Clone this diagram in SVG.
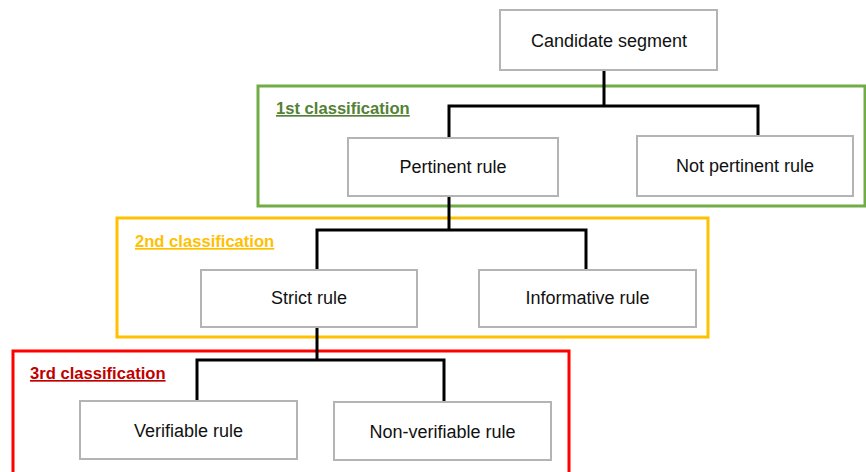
<svg xmlns="http://www.w3.org/2000/svg" width="866" height="472" viewBox="0 0 866 472">
<style>
.node rect{fill:#fff;stroke:#B4B4B4;stroke-width:2}
.node text{font-family:"Liberation Sans",Arial,sans-serif;font-size:18px;fill:#111;text-anchor:middle}
.grp{fill:none;stroke-width:3}
.lbl{font-family:"Liberation Sans",Arial,sans-serif;font-size:16.6px;font-weight:bold;text-decoration:underline}
#connectors path{fill:none;stroke:#000;stroke-width:3}
</style>
<rect width="866" height="472" fill="#fff"/>
<g id="group-1st">
<rect class="grp" x="258" y="86" width="607" height="120" stroke="#70AD47"/>
<text class="lbl" x="276" y="114" fill="#538135">1st classification</text>
</g>
<g id="group-2nd">
<rect class="grp" x="117" y="218" width="591" height="119" stroke="#FFC000"/>
<text class="lbl" x="135" y="247" fill="#FFC000">2nd classification</text>
</g>
<g id="group-3rd">
<rect class="grp" x="13" y="351" width="556" height="125" stroke="#FF0000"/>
<text class="lbl" x="30" y="379" fill="#C00000">3rd classification</text>
</g>
<g id="connectors">
<path d="M604 70V106M449 138V106H758V138"/>
<path d="M449 196V230M317 270V230H586V270"/>
<path d="M317 327V360M197 401V360H444V401"/>
</g>
<g id="candidate" class="node"><rect x="500" y="10" width="217" height="60"/><text x="609" y="47">Candidate segment</text></g>
<g id="pertinent" class="node"><rect x="348" y="138" width="210" height="58"/><text x="453" y="173">Pertinent rule</text></g>
<g id="not-pertinent" class="node"><rect x="637" y="136" width="216" height="60"/><text x="745" y="172">Not pertinent rule</text></g>
<g id="strict" class="node"><rect x="201" y="270" width="216" height="57"/><text x="309" y="304">Strict rule</text></g>
<g id="informative" class="node"><rect x="479" y="270" width="217" height="57"/><text x="587.5" y="304">Informative rule</text></g>
<g id="verifiable" class="node"><rect x="80" y="401" width="217" height="58"/><text x="188.5" y="437">Verifiable rule</text></g>
<g id="non-verifiable" class="node"><rect x="334" y="402" width="217" height="58"/><text x="442.5" y="438">Non-verifiable rule</text></g>
</svg>
